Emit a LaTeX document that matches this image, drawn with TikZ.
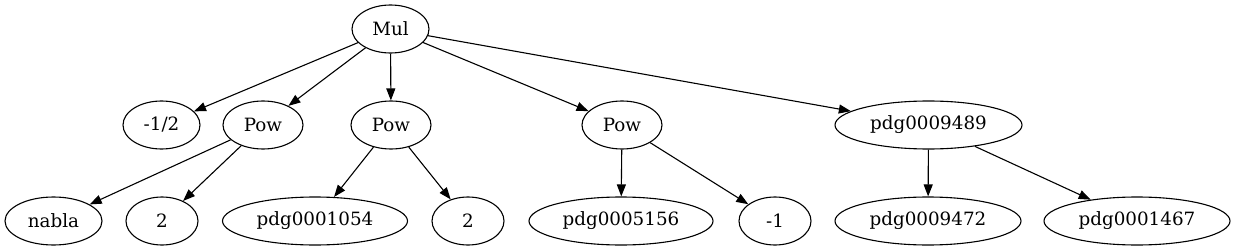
\documentclass[tikz,border=0pt]{standalone}
\usepackage{fontspec}
\setmainfont{DejaVu Serif}
\usetikzlibrary{arrows.meta,shapes.geometric}
\begin{document}
\begin{tikzpicture}[x=1pt,y=-1pt,
  nd/.style={draw,ellipse,line width=1.1pt,minimum height=48pt,inner sep=0pt,font=\fontsize{18.3}{22}\selectfont},
  w/.style={minimum width=#1 pt},
  edge/.style={line width=1.1pt,-{Triangle[length=12pt,width=9pt]}}]
\useasboundingbox (0,0) rectangle (1236,251);
\node[nd,w=77] (mul) at (390.5,29) {Mul};
\node[nd,w=77] (mh) at (161.5,125) {-1/2};
\node[nd,w=80] (p1) at (263,125) {Pow};
\node[nd,w=80] (p2) at (391,125) {Pow};
\node[nd,w=80] (p3) at (622,125) {Pow};
\node[nd,w=187] (g89) at (928.5,125) {pdg0009489};
\node[nd,w=97] (nab) at (53.5,221) {nabla};
\node[nd,w=72] (t1) at (162,221) {2};
\node[nd,w=185] (g54) at (315,221) {pdg0001054};
\node[nd,w=72] (t2) at (468,221) {2};
\node[nd,w=184] (g56) at (621,221) {pdg0005156};
\node[nd,w=72] (m1) at (775,221) {-1};
\node[nd,w=186] (g72) at (928,221) {pdg0009472};
\node[nd,w=186] (g67) at (1137,221) {pdg0001467};
\draw[edge] (mul) -- (mh);
\draw[edge] (mul) -- (p1);
\draw[edge] (mul) -- (p2);
\draw[edge] (mul) -- (p3);
\draw[edge] (mul) -- (g89);
\draw[edge] (p1) -- (nab);
\draw[edge] (p1) -- (t1);
\draw[edge] (p2) -- (g54);
\draw[edge] (p2) -- (t2);
\draw[edge] (p3) -- (g56);
\draw[edge] (p3) -- (m1);
\draw[edge] (g89) -- (g72);
\draw[edge] (g89) -- (g67);
\end{tikzpicture}
\end{document}
